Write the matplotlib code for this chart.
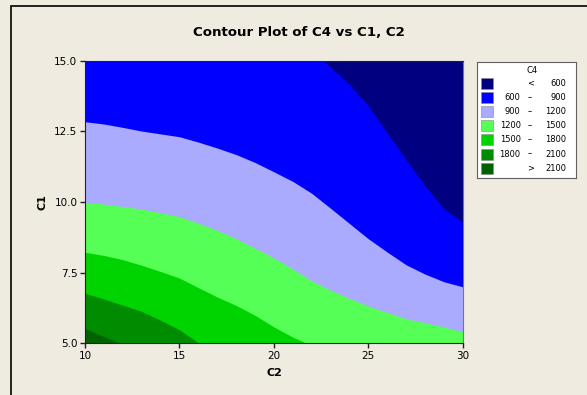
import matplotlib
matplotlib.use("Agg")
import matplotlib.pyplot as plt
from matplotlib.patches import Rectangle

c2 = [10, 11, 12, 13, 14, 15, 16, 17, 18, 19, 20, 21, 22, 23, 24, 25, 26, 27, 28, 29, 30]

# C1 of each contour line; values outside 5..15 are off-axis estimates (clipped by the limits)
b600 = [17.2, 17.2, 17.15, 17.1, 17.0, 16.9, 16.8, 16.7, 16.55, 16.35, 16.1,
        15.8, 15.38, 14.77, 14.16, 13.41, 12.46, 11.51, 10.58, 9.77, 9.28]
b900 = [12.84, 12.76, 12.64, 12.51, 12.41, 12.31, 12.12, 11.91, 11.68, 11.40, 11.07,
        10.73, 10.31, 9.78, 9.24, 8.70, 8.23, 7.78, 7.45, 7.18, 7.00]
b1200 = [9.99, 9.93, 9.84, 9.75, 9.62, 9.48, 9.25, 9.00, 8.70, 8.37, 8.02,
         7.63, 7.21, 6.88, 6.59, 6.32, 6.09, 5.87, 5.73, 5.58, 5.41]
b1500 = [8.22, 8.11, 7.96, 7.76, 7.54, 7.31, 6.97, 6.64, 6.34, 5.99, 5.58,
         5.22, 4.92, 4.65, 4.40, 4.20, 4.00, 3.85, 3.70, 3.60, 3.50]
b1800 = [6.77, 6.57, 6.35, 6.13, 5.82, 5.48, 5.02, 4.60, 4.25, 3.95, 3.70,
         3.50, 3.30, 3.15, 3.00, 2.90, 2.80, 2.70, 2.60, 2.55, 2.50]
b2100 = [5.53, 5.24, 4.96, 4.70, 4.45, 4.20, 4.00, 3.80, 3.60, 3.40, 3.25,
         3.10, 2.95, 2.80, 2.70, 2.60, 2.50, 2.40, 2.30, 2.20, 2.10]

levels = [600, 900, 1200, 1500, 1800, 2100]
band_colors = ["#000080", "#0000FF", "#AAAAFF", "#55FF55", "#00D400", "#008C00", "#006200"]

x_ticks = [10, 15, 20, 25, 30]
y_ticks = [5.0, 7.5, 10.0, 12.5, 15.0]

BG = "#EFEBE1"
W, H = 587, 395

fig = plt.figure(figsize=(W / 100, H / 100), dpi=100, facecolor=BG)

# outer frame (only left and top edges visible in the crop)
fig.add_artist(Rectangle((11 / W, -0.5), 2.0, (1 - 6 / H) + 0.5, transform=fig.transFigure,
                         fill=False, edgecolor="black", linewidth=1.2))

ax = fig.add_axes([85 / W, 1 - 343.3 / H, (462.7 - 85) / W, (343.3 - 60.7) / H])
ax.set_facecolor(band_colors[0])

# layered fills: each lower band painted from below the axis up to its upper boundary
for bound, color in zip([b600, b900, b1200, b1500, b1800, b2100], band_colors[1:]):
    ax.fill_between(c2, 0, bound, color=color, linewidth=0, zorder=1)

ax.set_xlim(10, 30)
ax.set_ylim(5, 15)
ax.set_xticks(x_ticks)
ax.set_xticklabels([str(t) for t in x_ticks])
ax.set_yticks(y_ticks)
ax.set_yticklabels([f"{t:.1f}" for t in y_ticks])
ax.tick_params(direction="out", length=3.5, width=1, labelsize=7.5, pad=2, color="#222222")
for side in ["left", "bottom", "top"]:
    ax.spines[side].set_color("#222222")
    ax.spines[side].set_zorder(5)
ax.spines["right"].set_color("#777777")

fig.text(299 / W, 1 - 33 / H, "Contour Plot of C4 vs C1, C2", ha="center", va="center",
         fontsize=9.6, fontweight="bold")
fig.text(274 / W, 1 - 373 / H, "C2", ha="center", va="center", fontsize=8, fontweight="bold")
fig.text(43 / W, 1 - 202 / H, "C1", ha="center", va="center", fontsize=8, fontweight="bold",
         rotation=90)

# legend box, drawn in pixel units
lx0, ly0, lx1, ly1 = 476.7, 61.7, 576.0, 178.3
lax = fig.add_axes([lx0 / W, 1 - ly1 / H, (lx1 - lx0) / W, (ly1 - ly0) / H])
lax.set_xlim(0, lx1 - lx0)
lax.set_ylim(ly1 - ly0, 0)
lax.set_xticks([])
lax.set_yticks([])
lax.set_facecolor("white")
for s in lax.spines.values():
    s.set_color("#606060")
lax.text(55, 8.5, "C4", ha="center", va="center", fontsize=6)

rows = [("", "<", levels[0])]
rows += [(levels[i], "–", levels[i + 1]) for i in range(len(levels) - 1)]
rows += [("", ">", levels[-1])]
for i, (lo, sep, hi) in enumerate(rows):
    yc = 21.6 + i * 14.15
    lax.add_patch(Rectangle((4, yc - 5.5), 12, 11, facecolor=band_colors[i],
                            edgecolor="#888888", linewidth=0.4))
    lax.text(44, yc, str(lo), ha="right", va="center", fontsize=6)
    lax.text(53.5, yc, sep, ha="center", va="center", fontsize=6)
    lax.text(89.5, yc, str(hi), ha="right", va="center", fontsize=6)

fig.savefig("out.png", dpi=100, facecolor=BG)
